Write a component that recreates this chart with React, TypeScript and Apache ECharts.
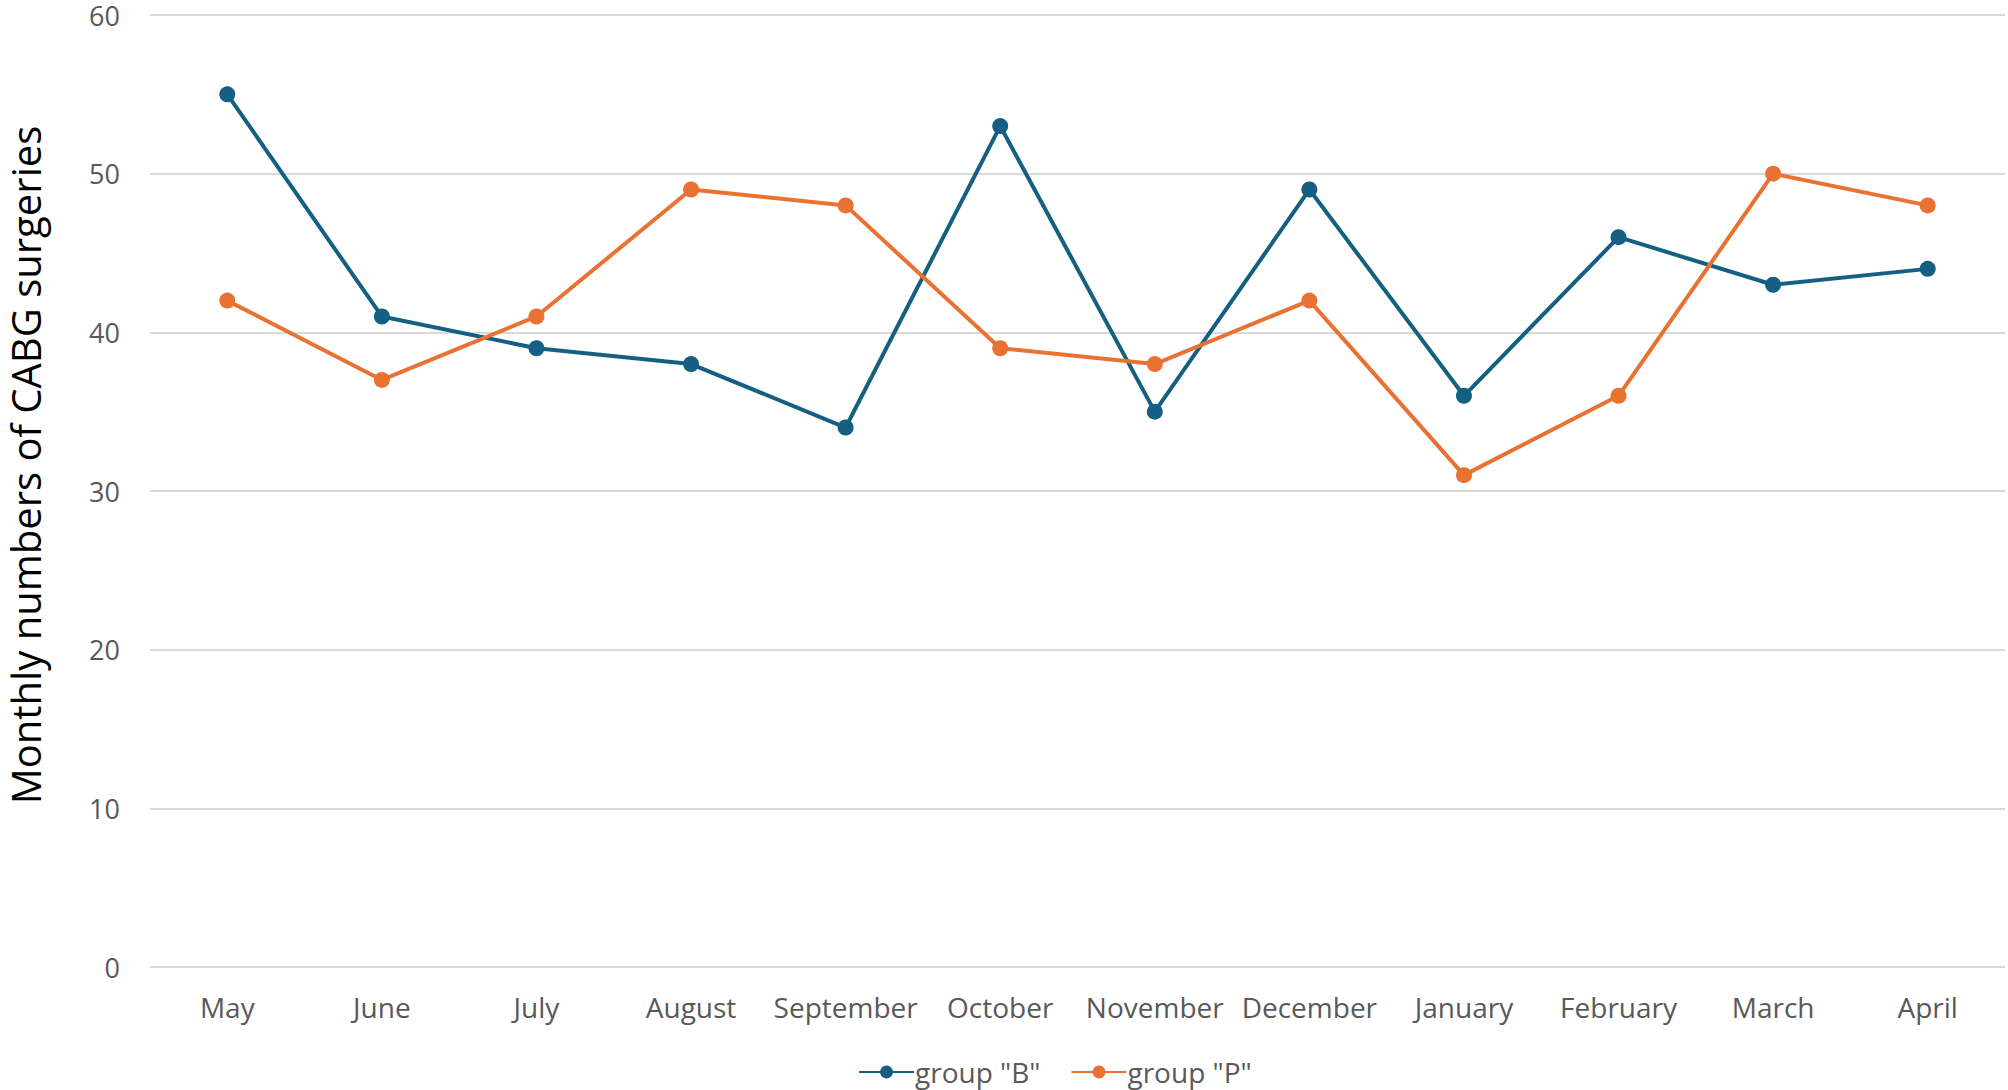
import React, { useEffect, useRef } from "react";
import * as echarts from "echarts";

const months = ["May", "June", "July", "August", "September", "October", "November", "December", "January", "February", "March", "April"];
const groupB = [55, 41, 39, 38, 34, 53, 35, 49, 36, 46, 43, 44];
const groupP = [42, 37, 41, 49, 48, 39, 38, 42, 31, 36, 50, 48];
const seriesNames = ['group "B"', 'group "P"'];
const yTitle = "Monthly numbers of CABG surgeries";

export default function App() {
  const ref = useRef<HTMLDivElement>(null);
  useEffect(() => {
    const chart = echarts.init(ref.current!, null, { renderer: "svg" });
    const font = "'Open Sans', sans-serif";
    chart.setOption({
      animation: false,
      backgroundColor: "#ffffff",
      grid: { left: 150, right: 3, top: 15, bottom: 123, containLabel: false },
      legend: {
        left: 853,
        top: 1053,
        itemWidth: 55,
        itemHeight: 16,
        itemGap: 30,
        textStyle: { color: "#595959", fontSize: 28, fontFamily: font, padding: [0, 0, 0, -4] },
        data: seriesNames,
      },
      xAxis: {
        type: "category",
        data: months,
        boundaryGap: true,
        axisLine: { show: false },
        axisTick: { show: false },
        axisLabel: { color: "#595959", fontSize: 28, fontFamily: font, margin: 26, interval: 0 },
      },
      yAxis: {
        type: "value",
        min: 0,
        max: 60,
        interval: 10,
        axisLine: { show: false },
        axisTick: { show: false },
        splitLine: { lineStyle: { color: "#d9d9d9", width: 2 } },
        axisLabel: { color: "#595959", fontSize: 27, fontFamily: font, margin: 30 },
      },
      graphic: [
        {
          type: "text",
          x: 25,
          y: 465,
          rotation: Math.PI / 2,
          style: {
            text: yTitle,
            fontSize: 40,
            fontFamily: font,
            fill: "#000000",
            textAlign: "center",
            textVerticalAlign: "middle",
          },
        },
      ],
      series: [
        {
          name: seriesNames[0],
          type: "line",
          data: groupB,
          symbol: "circle",
          symbolSize: 16,
          color: "#156082",
          lineStyle: { width: 4, color: "#156082" },
          itemStyle: { color: "#156082" },
        },
        {
          name: seriesNames[1],
          type: "line",
          data: groupP,
          symbol: "circle",
          symbolSize: 16,
          color: "#E97132",
          lineStyle: { width: 4, color: "#E97132" },
          itemStyle: { color: "#E97132" },
        },
      ],
    });
    return () => chart.dispose();
  }, []);
  return <div ref={ref} style={{ width: 2008, height: 1090, position: "absolute", left: 0, top: 0 }} />;
}
